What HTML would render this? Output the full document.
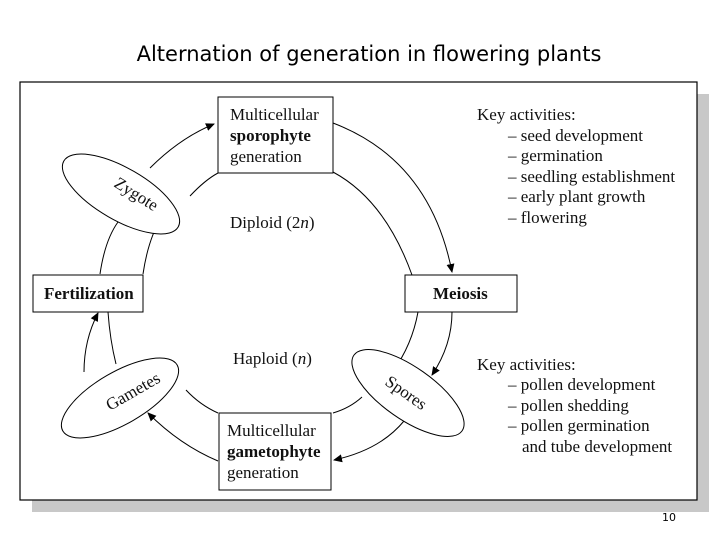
<!DOCTYPE html>
<html><head><style>
body{margin:0;width:720px;height:540px;background:#fff;overflow:hidden;position:relative;font-family:"Liberation Serif",serif}
.t{position:absolute;left:0;width:738px;top:42px;text-align:center;font-family:"DejaVu Sans",sans-serif;font-size:21px}
</style></head><body>
<div class="t">Alternation of generation in flowering plants</div>
<svg width="720" height="540" style="position:absolute;left:0;top:0" font-family="Liberation Serif, serif">
<defs><marker id="a" markerWidth="10" markerHeight="10" refX="8" refY="5" orient="auto" markerUnits="userSpaceOnUse"><path d="M0,1 L9,5 L0,9z" fill="#000"/></marker></defs>
<rect x="32" y="94" width="677" height="418" fill="#c8c8c8"/>
<rect x="20" y="82" width="677" height="418" fill="#fff" stroke="#000" stroke-width="1.2"/>
<g fill="none" stroke="#000" stroke-width="1">
<path d="M150,168 Q180,138 214,124" marker-end="url(#a)"/>
<path d="M190,196 Q205,180 218,173"/>
<path d="M333,123 Q430,160 452,272" marker-end="url(#a)"/>
<path d="M333,172 Q385,200 412,275"/>
<path d="M452,312 Q452,345 432,375" marker-end="url(#a)"/>
<path d="M418,312 Q412,345 393,371"/>
<path d="M404,421 Q380,450 334,460" marker-end="url(#a)"/>
<path d="M362,397 Q350,408 333,413"/>
<path d="M218,461 Q180,445 148,413" marker-end="url(#a)"/>
<path d="M218,413 Q200,405 186,390"/>
<path d="M84,372 Q84,340 98,313" marker-end="url(#a)"/>
<path d="M116,364 Q110,340 108,312"/>
<path d="M100,274 Q105,240 118,222"/>
<path d="M143,274 Q148,240 161,218"/>
</g>
<g fill="#fff" stroke="#000" stroke-width="1">
<rect x="218" y="97" width="115" height="76"/>
<rect x="33" y="275" width="110" height="37"/>
<rect x="405" y="275" width="112" height="37"/>
<rect x="219" y="413" width="112" height="77"/>
<ellipse cx="121" cy="194" rx="66" ry="26" transform="rotate(30 121 194)"/>
<ellipse cx="120" cy="398" rx="66" ry="26" transform="rotate(-30 120 398)"/>
<ellipse cx="408" cy="393" rx="66" ry="26" transform="rotate(35 408 393)"/>
</g>
<g font-size="17" fill="#111">
<text x="230" y="120">Multicellular</text>
<text x="230" y="141" font-weight="bold">sporophyte</text>
<text x="230" y="162">generation</text>
<text x="44" y="299" font-weight="bold">Fertilization</text>
<text x="433" y="299" font-weight="bold">Meiosis</text>
<text x="227" y="436">Multicellular</text>
<text x="227" y="457" font-weight="bold">gametophyte</text>
<text x="227" y="478">generation</text>
<text x="230" y="228">Diploid (2<tspan font-style="italic">n</tspan>)</text>
<text x="233" y="364">Haploid (<tspan font-style="italic">n</tspan>)</text>
<text x="0" y="0" transform="translate(113,186) rotate(32)">Zygote</text>
<text x="0" y="0" transform="translate(110,411) rotate(-30)">Gametes</text>
<text x="0" y="0" transform="translate(384,384) rotate(35)">Spores</text>
<text x="477" y="120">Key activities:</text>
<text x="508" y="141">– seed development</text>
<text x="508" y="161">– germination</text>
<text x="508" y="182">– seedling establishment</text>
<text x="508" y="202">– early plant growth</text>
<text x="508" y="223">– flowering</text>
<text x="477" y="370">Key activities:</text>
<text x="508" y="390">– pollen development</text>
<text x="508" y="411">– pollen shedding</text>
<text x="508" y="431">– pollen germination</text>
<text x="522" y="452">and tube development</text>
</g>
<text x="662" y="521" font-family="DejaVu Sans, sans-serif" font-size="11">10</text>
</svg>
</body></html>
